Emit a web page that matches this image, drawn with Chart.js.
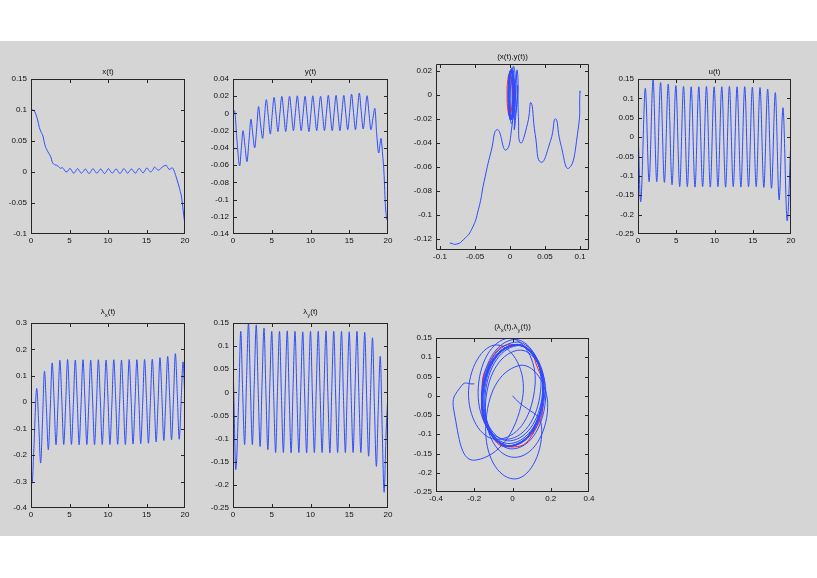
<!DOCTYPE html>
<html>
<head>
<meta charset="utf-8">
<script src="https://cdn.jsdelivr.net/npm/chart.js@4.4.1/dist/chart.umd.min.js"></script>
<style>
  html, body { margin: 0; padding: 0; background: #fff; overflow: hidden; }
  #page { position: relative; width: 817px; height: 578px; }
  #panel { position: absolute; left: 0; top: 41px; width: 817px; height: 495px; background: #d5d5d5; }
  canvas { position: absolute; }
</style>
</head>
<body>
<div id="page">
  <div id="panel"></div>
  <canvas id="c1"></canvas><canvas id="c2"></canvas><canvas id="c3"></canvas><canvas id="c4"></canvas>
  <canvas id="c5"></canvas><canvas id="c6"></canvas><canvas id="c7"></canvas>
</div>
<script>
// x(t) and y(t), read at the same times (also used for the (x,y) phase plot)
const tXY = [
  0, 0.2, 0.5, 0.86, 1.08, 1.29, 1.55, 1.8, 2.05, 2.32, 2.55, 2.8, 3.05, 3.3, 3.55, 3.83,
  4.05, 4.3, 4.55, 4.82, 5.05, 5.3, 5.55, 5.8, 6.05, 6.3, 6.55, 6.8,
  7.05, 7.3, 7.55, 7.8, 8.05, 8.3, 8.55, 8.8, 9.05, 9.3, 9.55, 9.8,
  10.05, 10.3, 10.55, 10.8, 11.05, 11.3, 11.55, 11.8, 12.05, 12.3, 12.55, 12.8,
  13.05, 13.3, 13.55, 13.8, 14.05, 14.3, 14.55, 14.8, 15.05, 15.3, 15.55, 15.8,
  16.05, 16.3, 16.55, 16.8, 17.05, 17.3, 17.55, 17.8,
  18.05, 18.3, 18.55, 18.8, 19.1, 19.3, 19.5, 19.6, 19.7, 19.8, 19.9, 20
];
const xVals = [
  0.100, 0.100, 0.097, 0.084, 0.072, 0.065, 0.058, 0.044, 0.036, 0.030, 0.025, 0.015, 0.012, 0.011, 0.009, 0.006,
  0.007, 0.004, 0.000, 0.002, 0.006, 0.002, -0.002, 0.0015, 0.0055, 0.0015, -0.002, 0.001,
  0.005, 0.001, -0.0025, 0.001, 0.0055, 0.0015, -0.002, 0.0015, 0.005, 0.001, -0.0025, 0.001,
  0.0055, 0.0015, -0.002, 0.0015, 0.005, 0.001, -0.0025, 0.001, 0.0055, 0.002, -0.002, 0.0015,
  0.005, 0.0015, -0.002, 0.002, 0.006, 0.002, -0.0015, 0.0025, 0.0065, 0.003, 0.000, 0.003,
  0.008, 0.005, 0.003, 0.005, 0.008, 0.010, 0.011, 0.006,
  0.004, 0.007, 0.003, -0.006, -0.018, -0.027, -0.037, -0.045, -0.055, -0.066, -0.076, -0.086
];
const yVals = [
  0.002, 0.003, -0.030, -0.061, -0.040, -0.020, -0.038, -0.056, -0.033, -0.0067, -0.024, -0.040, -0.018, 0.008, -0.012, -0.029,
  -0.006, 0.016, -0.003, -0.024, -0.002, 0.0186, -0.001, -0.021, 0.000, 0.0198, 0.000, -0.021,
  0.000, 0.020, 0.000, -0.020, 0.001, 0.0205, 0.000, -0.020, 0.000, 0.020, -0.001, -0.021,
  0.000, 0.0205, 0.000, -0.020, 0.001, 0.020, 0.000, -0.020, 0.000, 0.021, 0.000, -0.020,
  0.001, 0.021, 0.000, -0.020, 0.001, 0.021, 0.000, -0.019, 0.001, 0.0225, 0.001, -0.019,
  0.002, 0.0237, 0.002, -0.018, 0.001, 0.0206, 0.000, -0.019,
  -0.006, 0.006, -0.025, -0.046, -0.029, -0.047, -0.072, -0.095, -0.112, -0.120, -0.124, -0.123
];

// u(t): peaks and troughs
const tU = [
  0, 0.35, 0.96, 1.45, 1.97, 2.45, 2.95, 3.45, 3.95, 4.45, 4.95, 5.45, 5.95, 6.45, 6.95, 7.45,
  7.95, 8.45, 8.95, 9.45, 9.95, 10.45, 10.95, 11.45, 11.95, 12.45, 12.95, 13.45, 13.95, 14.45,
  14.95, 15.45, 15.95, 16.45, 16.95, 17.45, 17.95, 18.45, 18.95, 19.5, 20
];
const uVals = [
  0.029, -0.167, 0.126, -0.115, 0.148, -0.115, 0.141, -0.117, 0.137, -0.123, 0.133, -0.128, 0.131, -0.128, 0.130, -0.129,
  0.130, -0.128, 0.131, -0.129, 0.130, -0.128, 0.130, -0.129, 0.131, -0.128, 0.130, -0.129, 0.130, -0.128,
  0.129, -0.128, 0.128, -0.130, 0.124, -0.132, 0.115, -0.162, 0.076, -0.216, 0.000
];

// lambda_x(t) and lambda_y(t), read at the same times (also used for the phase plot)
const tLam = [
  0, 0.05, 0.15, 0.35,
  0.75, 1.0, 1.25, 1.5, 1.75, 2.0, 2.25, 2.5, 2.75, 3.0, 3.25, 3.5,
  3.75, 4.0, 4.25, 4.5, 4.75, 5.0, 5.25, 5.5, 5.75, 6.0, 6.25, 6.5,
  6.75, 7.0, 7.25, 7.5, 7.75, 8.0, 8.25, 8.5, 8.75, 9.0, 9.25, 9.5,
  9.75, 10.0, 10.25, 10.5, 10.75, 11.0, 11.25, 11.5, 11.75, 12.0, 12.25, 12.5,
  12.75, 13.0, 13.25, 13.5, 13.75, 14.0, 14.25, 14.5, 14.75, 15.0, 15.25, 15.5,
  15.75, 16.0, 16.25, 16.5, 16.75, 17.0, 17.25, 17.5, 17.75, 18.0, 18.25, 18.5,
  18.75, 19.0, 19.25, 19.5, 19.75, 20
];
const lamX = [
  -0.200, -0.265, -0.306, -0.190,
  0.052, -0.080, -0.230, -0.066, 0.118, -0.020, -0.180, -0.025, 0.149, 0.005, -0.161, -0.011,
  0.159, 0.010, -0.160, -0.010, 0.162, 0.011, -0.160, -0.009, 0.160, 0.012, -0.161, -0.008,
  0.161, 0.010, -0.160, -0.010, 0.160, 0.009, -0.161, -0.011, 0.161, 0.012, -0.160, -0.008,
  0.160, 0.010, -0.160, -0.010, 0.161, 0.011, -0.159, -0.009, 0.160, 0.010, -0.160, -0.008,
  0.162, 0.013, -0.158, -0.007, 0.161, 0.012, -0.157, -0.006, 0.162, 0.014, -0.155, -0.004,
  0.163, 0.016, -0.150, 0.000, 0.169, 0.022, -0.145, 0.005, 0.174, 0.026, -0.142, 0.011,
  0.184, 0.030, -0.140, 0.005, 0.153, 0.000
];
const lamY = [
  0.031, 0.027, -0.040, -0.167,
  -0.008, 0.132, 0.000, -0.113, 0.028, 0.150, 0.008, -0.113, 0.026, 0.146, 0.004, -0.117,
  0.021, 0.139, -0.002, -0.124, 0.014, 0.132, -0.009, -0.130, 0.011, 0.132, -0.009, -0.130,
  0.012, 0.133, -0.010, -0.131, 0.011, 0.132, -0.009, -0.130, 0.010, 0.131, -0.008, -0.131,
  0.011, 0.132, -0.010, -0.130, 0.012, 0.132, -0.009, -0.130, 0.011, 0.133, -0.009, -0.131,
  0.010, 0.132, -0.010, -0.130, 0.011, 0.132, -0.009, -0.130, 0.012, 0.131, -0.009, -0.130,
  0.011, 0.132, -0.009, -0.130, 0.011, 0.130, -0.014, -0.138, 0.000, 0.118, -0.031, -0.160,
  -0.031, 0.078, -0.079, -0.216, -0.090, 0.000
];

// red reference orbits (closed, first points repeated)
const orbitX3 = [0.0024, 0.0035, 0.0024, -0.0003, -0.0030, -0.0041, -0.0030, -0.0003, 0.0024, 0.0035, 0.0024];
const orbitY3 = [-0.0127, 0, 0.0127, 0.018, 0.0127, 0, -0.0127, -0.018, -0.0127, 0, 0.0127];
const orbitX7 = [0.105, 0.160, 0.113, 0.012, -0.105, -0.160, -0.113, -0.012, 0.105, 0.160, 0.113];
const orbitY7 = [-0.100, 0.010, 0.100, 0.133, 0.100, -0.010, -0.100, -0.133, -0.100, 0.010, 0.100];

// tick labels
const timeTicks = [0, 5, 10, 15, 20];
const xTicksY1 = [0.15, 0.1, 0.05, 0, -0.05, -0.1];
const yTicksY2 = [0.04, 0.02, 0, -0.02, -0.04, -0.06, -0.08, -0.1, -0.12, -0.14];
const phaseTicksX3 = [-0.1, -0.05, 0, 0.05, 0.1];
const phaseTicksY3 = [0.02, 0, -0.02, -0.04, -0.06, -0.08, -0.1, -0.12];
const uTicks = [0.15, 0.1, 0.05, 0, -0.05, -0.1, -0.15, -0.2, -0.25];
const lamXTicks = [0.3, 0.2, 0.1, 0, -0.1, -0.2, -0.3, -0.4];
const lamYTicks = [0.15, 0.1, 0.05, 0, -0.05, -0.1, -0.15, -0.2, -0.25];
const phaseTicksX7 = [-0.4, -0.2, 0, 0.2, 0.4];

const FONT = "'Liberation Sans', Arial, sans-serif";
const blue = "rgb(45, 75, 255)";
const red = "rgb(255, 30, 30)";

function pairs(a, b) {
  return a.map((v, i) => ({ x: v, y: b[i] }));
}

function framePlugin(title) {
  return {
    id: "frame",
    afterDraw(chart) {
      const ctx = chart.ctx;
      const a = chart.chartArea;
      const L = Math.round(a.left), T = Math.round(a.top);
      const R = Math.round(a.right), B = Math.round(a.bottom);
      const clampX = (p) => Math.min(Math.max(p, L + 0.5), R - 0.5);
      const clampY = (p) => Math.min(Math.max(p, T + 0.5), B - 0.5);
      ctx.save();
      ctx.strokeStyle = "#262626";
      ctx.lineWidth = 1;
      ctx.beginPath();
      ctx.rect(L + 0.5, T + 0.5, R - L - 1, B - T - 1);
      chart.scales.x.ticks.forEach((t) => {
        const p = clampX(Math.round(chart.scales.x.getPixelForValue(t.value)) + 0.5);
        ctx.moveTo(p, B); ctx.lineTo(p, B - 4);
        ctx.moveTo(p, T); ctx.lineTo(p, T + 4);
      });
      chart.scales.y.ticks.forEach((t) => {
        const p = clampY(Math.round(chart.scales.y.getPixelForValue(t.value)) + 0.5);
        ctx.moveTo(L, p); ctx.lineTo(L + 4, p);
        ctx.moveTo(R, p); ctx.lineTo(R - 4, p);
      });
      ctx.stroke();

      // title, "_" marks a subscript letter
      const parts = [];
      for (let i = 0; i < title.length; i++) {
        if (title[i] === "_") { parts.push([title[i + 1], true]); i++; }
        else parts.push([title[i], false]);
      }
      const hasSub = parts.some((p) => p[1]);
      const mainFont = "8px " + FONT, subFont = "6px " + FONT;
      let total = 0;
      parts.forEach((p) => { ctx.font = p[1] ? subFont : mainFont; total += ctx.measureText(p[0]).width; });
      let x = (L + R) / 2 - total / 2;
      const y = T - (hasSub ? 11 : 7);
      ctx.fillStyle = "#111";
      ctx.textBaseline = "middle";
      ctx.textAlign = "left";
      parts.forEach((p) => {
        ctx.font = p[1] ? subFont : mainFont;
        ctx.fillText(p[0], x, p[1] ? y + 3 : y);
        x += ctx.measureText(p[0]).width;
      });
      ctx.restore();
    },
  };
}

function axis(min, max, ticks, dir) {
  return {
    type: "linear",
    min: min,
    max: max,
    grid: { display: false, drawTicks: false },
    border: { display: false },
    afterBuildTicks: (s) => { s.ticks = ticks.map((v) => ({ value: v })); },
    afterFit: (s) => { if (dir === "x") s.height = 20; else s.width = 40; },
    ticks: {
      autoSkip: false,
      maxRotation: 0,
      padding: dir === "x" ? 2 : 4,
      color: "#111",
      font: { size: 8, family: FONT },
      callback: (v) => String(v),
    },
  };
}

function makePlot(id, box, title, xr, yr, datasets) {
  const c = document.getElementById(id);
  c.width = box[2] - box[0] + 50;
  c.height = box[3] - box[1] + 40;
  c.style.left = (box[0] - 40) + "px";
  c.style.top = (box[1] - 20) + "px";
  new Chart(c, {
    type: "line",
    data: { datasets: datasets },
    options: {
      responsive: false,
      animation: false,
      devicePixelRatio: 1,
      layout: { padding: { top: 20, right: 10, left: 0, bottom: 0 } },
      plugins: { legend: { display: false }, tooltip: { enabled: false } },
      elements: { point: { radius: 0 }, line: { borderWidth: 1 } },
      scales: {
        x: axis(xr[0], xr[1], xr[2], "x"),
        y: axis(yr[0], yr[1], yr[2], "y"),
      },
    },
    plugins: [framePlugin(title)],
  });
}

function timeSeries(t, v) {
  return [{ data: pairs(t, v), borderColor: blue, cubicInterpolationMode: "monotone", fill: false }];
}

makePlot("c1", [31, 79, 185, 234], "x(t)", [0, 20, timeTicks], [-0.1, 0.15, xTicksY1], timeSeries(tXY, xVals));
makePlot("c2", [233, 79, 388, 234], "y(t)", [0, 20, timeTicks], [-0.14, 0.04, yTicksY2], timeSeries(tXY, yVals));
makePlot("c3", [436, 64, 589, 250], "(x(t),y(t))", [-0.1057, 0.1128, phaseTicksX3], [-0.1289, 0.0255, phaseTicksY3], [
  { data: pairs(xVals, yVals), borderColor: blue, tension: 0.55, fill: false, order: 0 },
  { data: pairs(orbitX3, orbitY3), borderColor: red, tension: 0.55, fill: false, order: 1 },
]);
makePlot("c4", [638, 79, 791, 234], "u(t)", [0, 20, timeTicks], [-0.25, 0.15, uTicks], timeSeries(tU, uVals));
makePlot("c5", [31, 323, 185, 508], "λ_x(t)", [0, 20, timeTicks], [-0.4, 0.3, lamXTicks], timeSeries(tLam, lamX));
makePlot("c6", [233, 323, 388, 508], "λ_y(t)", [0, 20, timeTicks], [-0.25, 0.15, lamYTicks], timeSeries(tLam, lamY));
makePlot("c7", [436, 338, 589, 492], "(λ_x(t),λ_y(t))", [-0.4, 0.4, phaseTicksX7], [-0.25, 0.15, lamYTicks], [
  { data: pairs(lamX, lamY), borderColor: blue, tension: 0.55, fill: false, order: 0 },
  { data: pairs(orbitX7, orbitY7), borderColor: red, tension: 0.55, fill: false, order: 1 },
]);
</script>
</body>
</html>
